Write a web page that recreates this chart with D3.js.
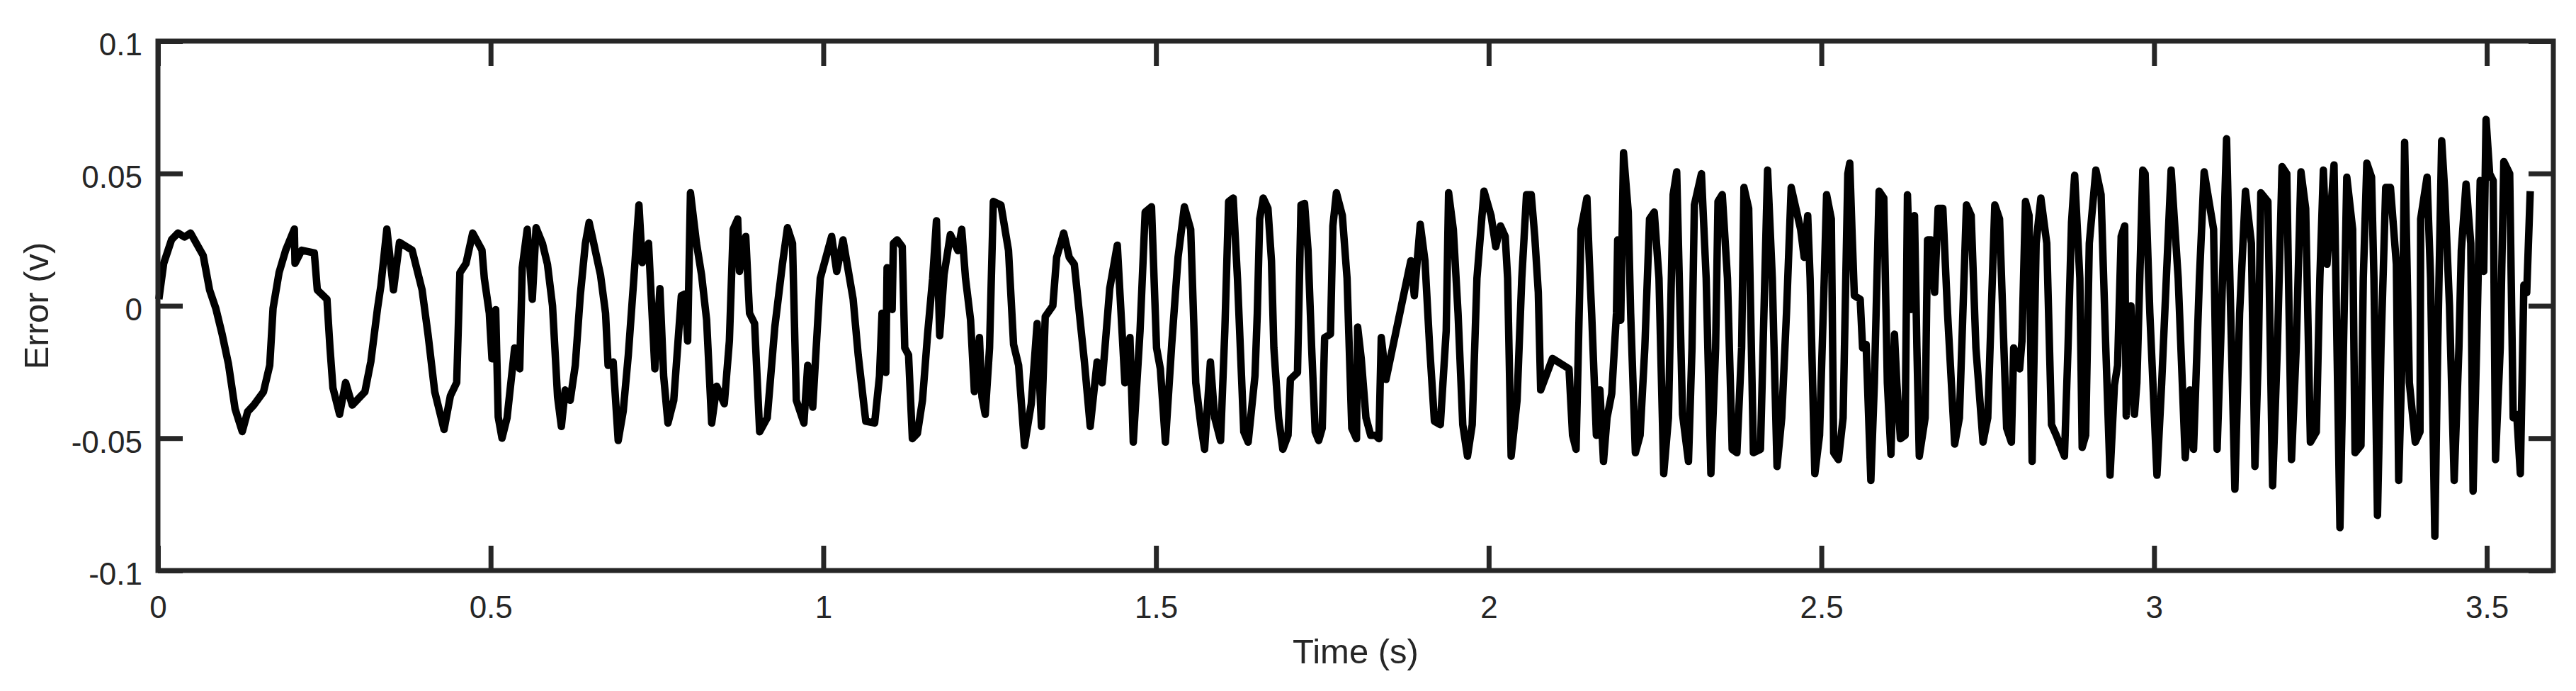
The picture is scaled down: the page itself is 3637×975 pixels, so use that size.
<!DOCTYPE html>
<html>
<head>
<meta charset="utf-8">
<script src="https://cdn.jsdelivr.net/npm/d3@7"></script>
<style>
    html, body { margin: 0; padding: 0; background: #fff; }
    svg { display: block; }
    text { font-family: "Liberation Sans", Arial, Helvetica, sans-serif; fill: #262626; }
</style>
</head>
<body>
<div id="chart"></div>
<script>
// Error signal (time in s, error in v)
const timeS = [
    0.0014, 0.0086, 0.0205, 0.030, 0.040, 0.049, 0.068, 0.0776, 0.087, 0.0967,
    0.106, 0.116, 0.1267, 0.1348, 0.144, 0.1586, 0.168, 0.173, 0.182, 0.192,
    0.205, 0.206, 0.216, 0.235, 0.2395, 0.254, 0.2586, 0.263, 0.273, 0.282,
    0.292, 0.311, 0.320, 0.330, 0.335, 0.344, 0.354, 0.363, 0.382, 0.397,
    0.406, 0.416, 0.430, 0.4395, 0.449, 0.4538, 0.463, 0.473, 0.487, 0.4905,
    0.498, 0.502, 0.5076, 0.5114, 0.5171, 0.5247, 0.5361, 0.5437, 0.5475, 0.555,
    0.5626, 0.5683, 0.5778, 0.5854, 0.593, 0.6006, 0.6063, 0.612, 0.6196, 0.6272,
    0.6347, 0.6424, 0.648, 0.6538, 0.6651, 0.6727, 0.6765, 0.6841, 0.6917, 0.6993,
    0.7069, 0.7145, 0.7229, 0.7278, 0.7373, 0.7468, 0.7544, 0.76, 0.7665, 0.7752,
    0.7866, 0.7923, 0.7961, 0.8003, 0.8094, 0.817, 0.8246, 0.8322, 0.8398, 0.8512,
    0.8588, 0.8645, 0.8713, 0.874, 0.8834, 0.8891, 0.8967, 0.9043, 0.9157, 0.9271,
    0.9385, 0.9461, 0.9537, 0.9594, 0.9708, 0.9765, 0.9841, 0.9954, 1.0125, 1.0201,
    1.0296, 1.0448, 1.0524, 1.0638, 1.0771, 1.0844, 1.0882, 1.0939, 1.0958, 1.1034,
    1.1053, 1.111, 1.1186, 1.1224, 1.1281, 1.1338, 1.1414, 1.149, 1.1567, 1.1643,
    1.17, 1.1749, 1.1814, 1.1909, 1.2023, 1.208, 1.2137, 1.2213, 1.227, 1.2346,
    1.2384, 1.2433, 1.2498, 1.2555, 1.2669, 1.2783, 1.2859, 1.2935, 1.3023, 1.3125,
    1.3213, 1.3278, 1.3335, 1.3449, 1.3506, 1.3612, 1.3696, 1.3772, 1.3848, 1.3924,
    1.4011, 1.4114, 1.419, 1.4304, 1.4418, 1.4532, 1.4608, 1.4658, 1.476, 1.4837,
    1.4932, 1.5008, 1.5065, 1.5141, 1.5236, 1.5331, 1.5426, 1.5521, 1.5597, 1.5673,
    1.573, 1.5817, 1.5882, 1.597, 1.6034, 1.6091, 1.616, 1.6224, 1.6319, 1.6385,
    1.6487, 1.6522, 1.6558, 1.6611, 1.6682, 1.6735, 1.6771, 1.6842, 1.6906, 1.6984,
    1.7019, 1.7126, 1.7179, 1.7232, 1.7285, 1.7339, 1.7392, 1.7445, 1.7498, 1.7534,
    1.7622, 1.7658, 1.7711, 1.78, 1.7871, 1.7942, 1.8013, 1.803, 1.8084, 1.8155,
    1.8226, 1.8297, 1.835, 1.8385, 1.8456, 1.8829, 1.8882, 1.8971, 1.9042, 1.9113,
    1.9184, 1.9273, 1.9361, 1.9397, 1.9468, 1.9539, 1.961, 1.9681, 1.9752, 1.9823,
    1.9929, 2.0035, 2.0106, 2.0177, 2.0248, 2.0284, 2.0337, 2.0426, 2.0497, 2.0568,
    2.0639, 2.0692, 2.0745, 2.0781, 2.0958, 2.1207, 2.126, 2.1313, 2.1388, 2.1476,
    2.1512, 2.1547, 2.1618, 2.1671, 2.1725, 2.1778, 2.1849, 2.192, 2.1938, 2.1984,
    2.2026, 2.2097, 2.2133, 2.2204, 2.2275, 2.2346, 2.2417, 2.2488, 2.2559, 2.263,
    2.2701, 2.2736, 2.2772, 2.2825, 2.2913, 2.3002, 2.3055, 2.3091, 2.3197, 2.3268,
    2.3339, 2.341, 2.3446, 2.351, 2.3588, 2.3659, 2.373, 2.3801, 2.3836, 2.3907,
    2.3978, 2.4084, 2.4191, 2.4262, 2.4333, 2.4404, 2.4475, 2.4546, 2.4688, 2.4741,
    2.4794, 2.483, 2.4901, 2.4972, 2.5043, 2.5078, 2.5149, 2.5185, 2.5256, 2.5326,
    2.5397, 2.5426, 2.5459, 2.5495, 2.5583, 2.5619, 2.5672, 2.5743, 2.5796, 2.5867,
    2.5938, 2.5991, 2.6045, 2.6098, 2.6133, 2.6187, 2.6258, 2.6293, 2.6346, 2.6399,
    2.6435, 2.6471, 2.6559, 2.6595, 2.6648, 2.6701, 2.6754, 2.6825, 2.6896, 2.7003,
    2.7074, 2.718, 2.7251, 2.7322, 2.7429, 2.75, 2.7606, 2.7677, 2.7784, 2.7855,
    2.789, 2.7979, 2.8014, 2.8067, 2.8121, 2.8167, 2.8227, 2.8298, 2.8387, 2.8458,
    2.8529, 2.8653, 2.8706, 2.8759, 2.8806, 2.8884, 2.8919, 2.8972, 2.9026, 2.9125,
    2.9203, 2.9274, 2.9338, 2.9404, 2.9451, 2.9505, 2.9558, 2.9581, 2.9652, 2.9705,
    2.9741, 2.983, 2.9865, 2.9936, 3.0043, 3.0114, 3.0256, 3.0362, 3.0468, 3.0539,
    3.0593, 3.0681, 3.0752, 3.0894, 3.0947, 3.1001, 3.1089, 3.1214, 3.1285, 3.1373,
    3.1462, 3.1515, 3.1569, 3.1604, 3.171, 3.1781, 3.1852, 3.1923, 3.1994, 3.2065,
    3.2136, 3.2207, 3.2278, 3.2349, 3.2438, 3.2491, 3.2544, 3.2598, 3.2704, 3.2793,
    3.2896, 3.2984, 3.302, 3.3109, 3.3144, 3.3197, 3.3268, 3.3304, 3.3357, 3.341,
    3.3481, 3.3552, 3.3641, 3.3676, 3.373, 3.3765, 3.3836, 3.3925, 3.3996, 3.4006,
    3.4102, 3.4155, 3.4219, 3.4262, 3.4322, 3.4368, 3.4439, 3.451, 3.4581, 3.4617,
    3.4688, 3.4759, 3.4794, 3.4847, 3.4901, 3.4954, 3.4989, 3.5043, 3.5096, 3.5131,
    3.5202, 3.5256, 3.5344, 3.5397, 3.545, 3.5504, 3.5557, 3.56, 3.5653
];

const errorV = [
    0.0025, 0.016, 0.025, 0.0275, 0.026, 0.0275, 0.019, 0.006, -0.001, -0.011,
    -0.022, -0.039, -0.0475, -0.040, -0.0375, -0.0325, -0.0225, -0.001, 0.0125, 0.021,
    0.029, 0.016, 0.021, 0.020, 0.006, 0.0025, -0.016, -0.031, -0.041, -0.029,
    -0.0375, -0.0325, -0.021, -0.001, 0.0075, 0.029, 0.006, 0.024, 0.021, 0.006,
    -0.011, -0.0325, -0.0467, -0.034, -0.029, 0.0125, 0.016, 0.0275, 0.021, 0.0104,
    -0.0028, -0.020, -0.0015, -0.042, -0.050, -0.0423, -0.0159, -0.0238, 0.0144, 0.0289,
    0.0025, 0.0295, 0.0236, 0.0157, 0.0, -0.0344, -0.0456, -0.0318, -0.0357, -0.0225,
    0.0038, 0.0236, 0.0315, 0.0249, 0.0117, -0.0028, -0.0225, -0.0212, -0.0509, -0.0397,
    -0.0186, 0.0078, 0.0381, 0.0163, 0.0236, -0.0238, 0.0065, -0.0265, -0.0443, -0.0357,
    0.0038, 0.0045, -0.0133, 0.0427, 0.0236, 0.0117, -0.0054, -0.0443, -0.0304, -0.037,
    -0.0133, 0.0289, 0.0328, 0.013, 0.0262, -0.0028, -0.0067, -0.0476, -0.0423, -0.008,
    0.0157, 0.0295, 0.0236, -0.0357, -0.0443, -0.0225, -0.0383, 0.0104, 0.0262, 0.013,
    0.0249, 0.0025, -0.0186, -0.0436, -0.0443, -0.0265, -0.0028, -0.0252, 0.0144, -0.0014,
    0.0236, 0.0249, 0.0223, -0.0159, -0.0186, -0.0502, -0.0482, -0.0357, -0.0107, 0.0104,
    0.0321, -0.0113, 0.0117, 0.0269, 0.0209, 0.0289, 0.0104, -0.0054, -0.0324, -0.012,
    -0.0344, -0.041, -0.0159, 0.0394, 0.0381, 0.0209, -0.0146, -0.0225, -0.0528, -0.037,
    -0.0067, -0.0456, -0.0041, 0.0, 0.0183, 0.0275, 0.0183, 0.0157, -0.0028, -0.0212,
    -0.0456, -0.0212, -0.0291, 0.0065, 0.0229, -0.0291, -0.012, -0.0515, -0.0094, 0.0354,
    0.0374, -0.0159, -0.0238, -0.0515, -0.0146, 0.0183, 0.0374, 0.0289, -0.0291, -0.0449,
    -0.0542, -0.0212, -0.0423, -0.0509, -0.0094, 0.0394, 0.0407, 0.0104, -0.0476, -0.0515,
    -0.0265, -0.0028, 0.0328, 0.0407, 0.0368, 0.017, -0.0159, -0.0423, -0.0542, -0.0489,
    -0.0278, -0.0252, 0.0381, 0.0387, 0.0209, -0.0159, -0.0476, -0.0509, -0.0462, -0.012,
    -0.0107, 0.0302, 0.0427, 0.0341, 0.0104, -0.0462, -0.0502, -0.008, -0.0199, -0.0423,
    -0.0489, -0.0489, -0.0502, -0.012, -0.0278, 0.017, 0.0038, 0.0308, 0.017, -0.0159,
    -0.0436, -0.0449, -0.0094, 0.0427, 0.0289, -0.0028, -0.0449, -0.0568, -0.0449, 0.0104,
    0.0433, 0.0341, 0.0223, 0.0302, 0.0262, 0.0104, -0.0568, -0.0357, 0.0104, 0.042,
    0.042, 0.0262, 0.0051, -0.0318, -0.0199, -0.0238, -0.0489, -0.0542, 0.0289, 0.0407,
    0.017, -0.0028, -0.0489, -0.0318, -0.0588, -0.0423, -0.0331, -0.0028, 0.0249, -0.0054,
    0.0578, 0.0354, -0.0028, -0.0555, -0.0489, -0.0159, 0.0328, 0.0354, 0.0104, -0.0634,
    -0.0423, 0.0, 0.042, 0.0506, -0.041, -0.0588, -0.0159, 0.0381, 0.0499, 0.0104,
    -0.0634, -0.0159, 0.0394, 0.042, 0.0104, -0.0542, -0.0555, -0.0159, 0.0447, 0.0368,
    -0.0555, -0.0542, 0.0513, 0.0104, -0.0607, -0.0423, -0.0028, 0.0447, 0.0289, 0.0183,
    0.0341, 0.0104, -0.0634, -0.0489, 0.0104, 0.042, 0.0328, -0.0555, -0.0581, -0.0423,
    0.0499, 0.0539, 0.0289, 0.0038, 0.0025, -0.0159, -0.0146, -0.066, -0.0291, 0.0433,
    0.0407, -0.0291, -0.0561, -0.0107, -0.0291, -0.0502, -0.0489, 0.042, -0.0014, 0.0341,
    -0.0159, -0.0568, -0.0423, 0.0249, 0.0249, 0.0051, 0.0368, 0.0368, -0.0028, -0.0522,
    -0.0423, 0.0381, 0.0341, -0.0159, -0.0515, -0.0423, 0.0381, 0.0328, -0.0462, -0.0515,
    -0.0159, -0.0238, -0.0133, 0.0394, 0.0341, -0.0588, 0.0236, 0.0407, 0.0236, -0.0449,
    -0.0489, -0.0568, -0.0159, 0.0315, 0.0493, 0.0104, -0.0535, -0.0489, 0.0236, 0.0513,
    0.042, -0.0159, -0.064, -0.030, -0.0225, 0.0262, 0.0302, -0.0416, 0.0, -0.041,
    -0.0291, 0.0513, 0.0499, -0.0028, -0.064, -0.0291, 0.0513, 0.0104, -0.0574, -0.0318,
    -0.0542, 0.0104, 0.0506, 0.0289, -0.0542, -0.0133, 0.0631, -0.0693, -0.0028, 0.0433,
    0.0236, -0.0607, -0.0159, 0.0427, 0.0394, -0.068, -0.0159, 0.0526, 0.0499, -0.0581,
    -0.0159, 0.0506, 0.0368, -0.0515, -0.0476, 0.0104, 0.0513, 0.0157, 0.0532, -0.0838,
    0.0486, 0.0289, -0.0555, -0.0528, 0.0104, 0.0539, 0.0486, 0.0104, -0.0792, -0.0159,
    0.0447, 0.0447, 0.0157, -0.066, -0.0159, 0.0618, -0.029, -0.0515, -0.0476, 0.0328,
    0.0486, 0.0104, -0.0871, -0.0159, 0.0624, 0.0433, 0.0, -0.066, -0.0159, 0.0209,
    0.046, 0.0236, -0.070, -0.0159, 0.0473, 0.013, 0.0704, 0.0499, 0.0473, -0.0581,
    -0.0159, 0.0545, 0.0499, -0.0423, -0.041, -0.0634, 0.0078, 0.005, 0.0433
];

const xTicks = [0, 0.5, 1, 1.5, 2, 2.5, 3, 3.5];
const xTickLabels = ['0', '0.5', '1', '1.5', '2', '2.5', '3', '3.5'];
const yTicks = [-0.1, -0.05, 0, 0.05, 0.1];
const yTickLabels = ['-0.1', '-0.05', '0', '0.05', '0.1'];

var width = 3637,
    height = 975;

var margin = { top: 58, right: 32, bottom: 170, left: 223 };

var axisColor = '#262626',
    tickLen = 35,
    axisWidth = 7;

var svg = d3
    .select('#chart')
    .append('svg')
    .attr('width', width)
    .attr('height', height);

var x = d3
    .scaleLinear()
    .domain([0, 3.6])
    .range([margin.left, width - margin.right]);

var y = d3
    .scaleLinear()
    .domain([-0.1, 0.1])
    .range([height - margin.bottom, margin.top]);

var points = timeS.map(function (t, i) {
    return { t: t, v: errorV[i] };
});

var line = d3
    .line()
    .x(function (d) {
        return x(d.t);
    })
    .y(function (d) {
        return y(d.v);
    });

// data line
svg.append('path')
    .datum(points)
    .attr('d', line)
    .attr('fill', 'none')
    .attr('stroke', '#000')
    .attr('stroke-width', 10.5)
    .attr('stroke-linejoin', 'round')
    .attr('stroke-linecap', 'butt');

function styleAxis(g) {
    g.select('.domain').remove();
    g.selectAll('.tick line')
        .attr('stroke', axisColor)
        .attr('stroke-width', axisWidth);
    g.attr('font-family', '"Liberation Sans", Arial, Helvetica, sans-serif')
        .attr('font-size', 44);
    g.selectAll('.tick text').attr('fill', axisColor);
}

var xFmt = function (d, i) {
    return xTickLabels[i];
};
var yFmt = function (d, i) {
    return yTickLabels[i];
};

svg.append('g')
    .attr('transform', 'translate(0,' + y(-0.1) + ')')
    .call(
        d3.axisBottom(x).tickValues(xTicks).tickFormat(xFmt)
            .tickSizeInner(-tickLen).tickSizeOuter(0).tickPadding(36)
    )
    .call(styleAxis);

svg.append('g')
    .attr('transform', 'translate(0,' + y(0.1) + ')')
    .call(
        d3.axisTop(x).tickValues(xTicks).tickFormat('')
            .tickSizeInner(-tickLen).tickSizeOuter(0)
    )
    .call(styleAxis);

svg.append('g')
    .attr('transform', 'translate(' + x(0) + ',0)')
    .call(
        d3.axisLeft(y).tickValues(yTicks).tickFormat(yFmt)
            .tickSizeInner(-tickLen).tickSizeOuter(0).tickPadding(22)
    )
    .call(styleAxis)
    .call(function (g) {
        g.selectAll('.tick text').attr('dy', '0.45em');
    });

svg.append('g')
    .attr('transform', 'translate(' + x(3.6) + ',0)')
    .call(
        d3.axisRight(y).tickValues(yTicks).tickFormat('')
            .tickSizeInner(-tickLen).tickSizeOuter(0)
    )
    .call(styleAxis);

// axes box
svg.append('rect')
    .attr('x', x(0))
    .attr('y', y(0.1))
    .attr('width', x(3.6) - x(0))
    .attr('height', y(-0.1) - y(0.1))
    .attr('fill', 'none')
    .attr('stroke', axisColor)
    .attr('stroke-width', axisWidth);

// axis labels
svg.append('text')
    .attr('x', (x(0) + x(3.6)) / 2)
    .attr('y', 936)
    .attr('text-anchor', 'middle')
    .attr('font-size', 49)
    .text('Time (s)');

svg.append('text')
    .attr('transform', 'translate(68,' + y(0) + ') rotate(-90)')
    .attr('text-anchor', 'middle')
    .attr('font-size', 49)
    .text('Error (v)');
</script>
</body>
</html>
